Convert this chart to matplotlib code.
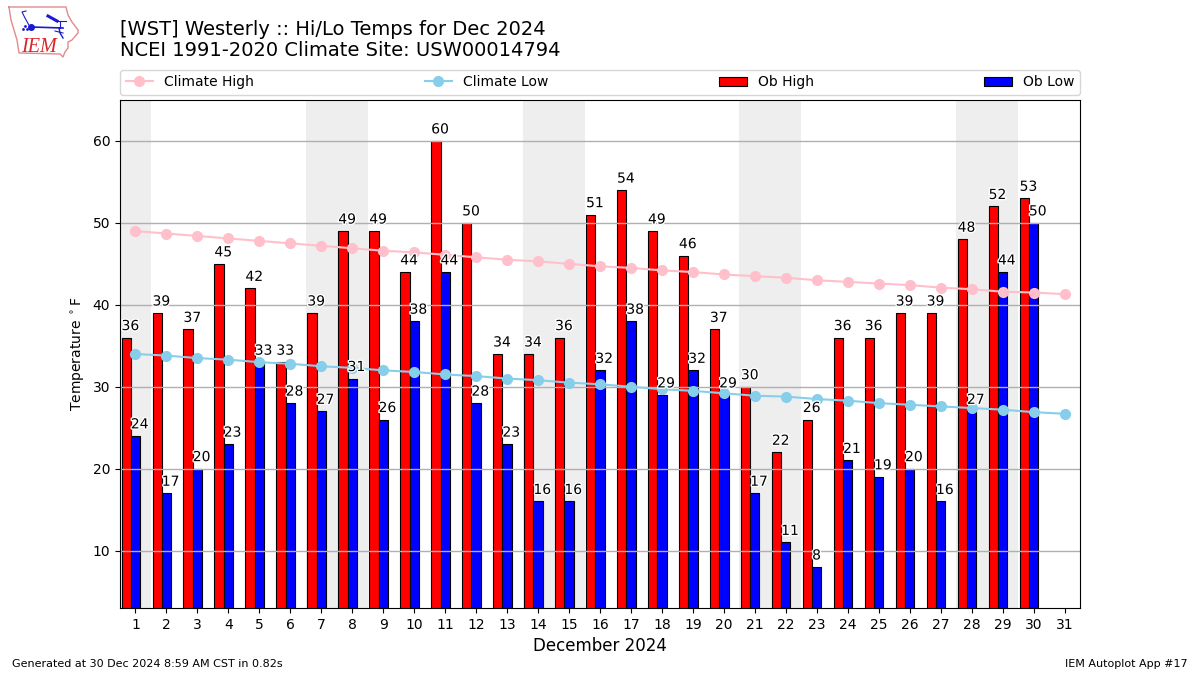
import numpy as np
import matplotlib
matplotlib.use('Agg')
import matplotlib.pyplot as plt
import matplotlib.patheffects as PathEffects

days = np.arange(1, 32)
ob_days = np.arange(1, 31)
ob_high = [36, 39, 37, 45, 42, 33, 39, 49, 49, 44, 60, 50, 34, 34, 36, 51, 54, 49, 46, 37,
           30, 22, 26, 36, 36, 39, 39, 48, 52, 53]
ob_low = [24, 17, 20, 23, 33, 28, 27, 31, 26, 38, 44, 28, 23, 16, 16, 32, 38, 29, 32, 29,
          17, 11, 8, 21, 19, 20, 16, 27, 44, 50]
climate_high = [49.0, 48.7, 48.4, 48.1, 47.8, 47.5, 47.2, 46.9, 46.6, 46.4, 46.1, 45.8, 45.5,
                45.3, 45.0, 44.7, 44.5, 44.2, 44.0, 43.7, 43.5, 43.3, 43.0, 42.8, 42.6, 42.4,
                42.1, 41.9, 41.6, 41.5, 41.3]
climate_low = [34.0, 33.8, 33.5, 33.3, 33.0, 32.8, 32.5, 32.3, 32.0, 31.8, 31.5, 31.3, 31.0,
               30.8, 30.5, 30.3, 30.0, 29.7, 29.5, 29.2, 28.9, 28.8, 28.5, 28.3, 28.0, 27.8,
               27.6, 27.4, 27.2, 26.9, 26.7]
weekends = [(0.5, 1.5), (6.5, 8.5), (13.5, 15.5), (20.5, 22.5), (27.5, 29.5)]

fig = plt.figure(figsize=(12, 6.75), dpi=100)
ax = fig.add_axes([0.1, 0.0993, 0.8, 0.7526])

for start, end in weekends:
    ax.axvspan(start, end, color='#eeeeee', lw=0, zorder=0)

width = 0.3
ax.bar(ob_days - width, ob_high, width=width, color='r', edgecolor='k', lw=0.8, label='Ob High')
ax.bar(ob_days, ob_low, width=width, color='b', edgecolor='k', lw=0.8, label='Ob Low')
ax.plot(days, climate_high, color='pink', marker='o', lw=1.5, ms=7, label='Climate High')
ax.plot(days, climate_low, color='skyblue', marker='o', lw=1.5, ms=7, label='Climate Low')

halo = [PathEffects.withStroke(linewidth=2, foreground='white')]
for d, hi, lo in zip(ob_days, ob_high, ob_low):
    ax.text(d - 1.5 * width, hi + 0.55, str(hi), ha='left', va='bottom', fontsize=10,
            path_effects=halo, zorder=5)
    ax.text(d - 0.5 * width, lo + 0.55, str(lo), ha='left', va='bottom', fontsize=10,
            path_effects=halo, zorder=5)

ax.set_xlim(0.5, 31.5)
ax.set_ylim(3, 65)
ax.set_xticks(days)
ax.set_yticks(np.arange(10, 61, 10))
ax.yaxis.grid(True, color='#b0b0b0', lw=1)
ax.set_ylabel(r'Temperature $^\circ$F')
ax.set_xlabel('December 2024', fontsize=12)

ax.legend(loc='lower left', bbox_to_anchor=(0, 1.01, 1, 0.05), mode='expand', ncol=4,
          borderaxespad=0, fontsize=10)

fig.text(0.1, 0.9105, '[WST] Westerly :: Hi/Lo Temps for Dec 2024\nNCEI 1991-2020 Climate Site: USW00014794',
         fontsize=14, ha='left', va='bottom', linespacing=1.15)
fig.text(0.01, 0.012, 'Generated at 30 Dec 2024 8:59 AM CST in 0.82s', fontsize=8)
fig.text(0.99, 0.012, 'IEM Autoplot App #17', fontsize=8, ha='right')

# logo, drawn in pixel coords
logo = fig.add_axes([0, 1 - 60 / 675, 85 / 1200, 60 / 675])
logo.set_xlim(0, 85)
logo.set_ylim(60, 0)
logo.axis('off')
outline_x = [9, 66, 68, 72, 78, 78, 72, 68, 68, 65, 63, 60, 19, 17, 14, 11, 9]
outline_y = [7, 7, 15, 22, 30, 33, 40, 42, 48, 52, 57, 54, 53, 40, 30, 20, 7]
logo.plot(outline_x, outline_y, color='#e38a8a', lw=1)
blue = '#1a1ad0'
logo.plot([31, 63], [27, 28], color=blue, lw=1.2)
logo.plot([31], [27], 'o', color=blue, ms=4)
logo.plot([26, 22, 25, 30], [11, 12, 18, 27], color=blue, lw=0.8)
logo.plot([48, 57], [16, 21], color=blue, lw=2.2)
logo.plot([57, 66], [21, 21], color=blue, lw=0.8)
logo.plot([60, 60], [21, 28], color=blue, lw=0.8)
logo.plot([59, 60, 63], [28, 33, 38], color=blue, lw=1)
logo.plot([55, 63], [31, 33], color=blue, lw=0.8)
logo.plot([23, 25, 27], [29, 26, 29], ls='none', marker='.', color=blue, ms=2)
logo.text(21.5, 52, 'IEM', family='Liberation Serif', style='italic', color='#d8262c', fontsize=14.5)

fig.savefig('out.png', dpi=100)
